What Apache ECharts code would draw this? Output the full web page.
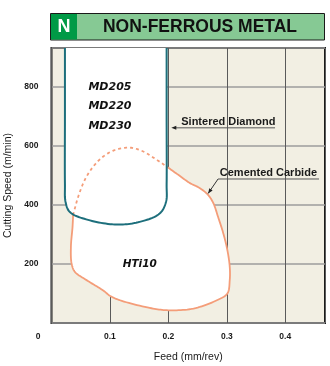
<!DOCTYPE html>
<html><head><meta charset="utf-8">
<script src="https://cdn.jsdelivr.net/npm/echarts@6/dist/echarts.min.js"></script>
<style>html,body{margin:0;padding:0;background:#fff}#c{width:330px;height:366px}</style>
</head><body><div id="c"></div>
<script>
// Tick labels
const xTicks = [0, 0.1, 0.2, 0.3, 0.4];
const yTicks = [200, 400, 600, 800];
// Sintered diamond region outline (feed, speed)
const diamondOutline = [[0.023,930],[0.023,700],[0.023,470],[0.024,410],[0.0315,375],[0.0658,347],[0.112,333],[0.151,342],[0.185,370],[0.196,410],[0.197,470],[0.197,700],[0.197,930]];
// Cemented carbide region: dashed part (inside diamond region), then solid part
const carbideDashed = [[0.037,365],[0.0457,427],[0.057,484],[0.0714,529],[0.0885,563],[0.1086,585],[0.1342,593],[0.157,580],[0.18,552],[0.197,529]];
const carbideSolid = [[0.197,529],[0.217,501],[0.237,473],[0.254,456],[0.268,433],[0.277,405],[0.285,359],[0.294,303],[0.301,246],[0.305,190],[0.305,145],[0.301,100],[0.283,77],[0.243,49],[0.2,43],[0.168,51],[0.117,77],[0.10,92],[0.0885,110],[0.06,145],[0.04,173],[0.0344,201],[0.0332,258],[0.036,325],[0.037,365]];
// Grade labels
const diamondGrades = ['MD205','MD220','MD230'];
const carbideGrades = ['HTi10'];

const chart = echarts.init(document.getElementById('c'), null, {renderer:'canvas'});
const TEAL = '#1d6f7c', ORANGE = '#f49d79', TXT = '#1a1a1a';
function px(api, arr){ return arr.map(p => api.coord(p)); }
// centripetal Catmull-Rom through pixel points
function spline(P, closed){
  const n = P.length, out = [];
  const get = i => closed ? P[(i+n)%n] : P[Math.max(0, Math.min(n-1, i))];
  const segs = closed ? n : n-1;
  for(let i=0;i<segs;i++){
    const p0=get(i-1), p1=get(i), p2=get(i+1), p3=get(i+2);
    const d = (a,b)=>Math.pow(Math.hypot(b[0]-a[0],b[1]-a[1])||1e-6,0.5);
    const t0=0, t1=t0+d(p0,p1), t2=t1+d(p1,p2), t3=t2+d(p2,p3);
    const S=12;
    for(let s=0;s<S;s++){
      const t=t1+(t2-t1)*s/S;
      const L=(a,b,ta,tb)=>[(tb-t)/(tb-ta)*a[0]+(t-ta)/(tb-ta)*b[0],(tb-t)/(tb-ta)*a[1]+(t-ta)/(tb-ta)*b[1]];
      const A1=L(p0,p1,t0,t1), A2=L(p1,p2,t1,t2), A3=L(p2,p3,t2,t3);
      const B1=L(A1,A2,t0,t2), B2=L(A2,A3,t1,t3);
      out.push(L(B1,B2,t1,t2));
    }
  }
  if(!closed) out.push(P[n-1]);
  return out;
}

function renderItem(params, api){
  const ch = [];
  const dPts = spline(px(api, diamondOutline), false);
  const cPts = spline(px(api, carbideDashed.slice(0,-1).concat(carbideSolid.slice(0,-1))), true);
  ch.push({type:'polygon', shape:{points:dPts}, style:{fill:'#fff', stroke:null}});
  ch.push({type:'polygon', shape:{points:cPts}, style:{fill:'#fff', stroke:null}});
  ch.push({type:'polyline', shape:{points:spline(px(api, carbideSolid), false)}, style:{fill:null, stroke:ORANGE, lineWidth:1.8}});
  ch.push({type:'polyline', shape:{points:spline(px(api, carbideDashed), false)}, style:{fill:null, stroke:ORANGE, lineWidth:1.8, lineDash:[3,3]}});
  ch.push({type:'polyline', shape:{points:dPts}, style:{fill:null, stroke:TEAL, lineWidth:2}});
  // grade labels
  const gy = [798, 732, 667];
  diamondGrades.forEach((g,i)=>{
    const p = api.coord([0.1, gy[i]]);
    ch.push({type:'text', style:{text:g, x:p[0], y:p[1], align:'center', verticalAlign:'middle', fontFamily:'DejaVu Sans', fontWeight:'bold', fontStyle:'italic', fontSize:11, fill:'#111'}});
  });
  const hp = api.coord([0.151, 198]);
  ch.push({type:'text', style:{text:carbideGrades[0], x:hp[0], y:hp[1], align:'center', verticalAlign:'middle', fontFamily:'DejaVu Sans', fontWeight:'bold', fontStyle:'italic', fontSize:10.5, fill:'#111'}});
  // Sintered Diamond annotation
  const s1 = api.coord([0.222, 680]);
  ch.push({type:'text', style:{text:'Sintered Diamond', x:s1[0], y:s1[1], align:'left', verticalAlign:'middle', fontFamily:'Liberation Sans', fontWeight:'bold', fontSize:11, fill:TXT}});
  const u1a = api.coord([0.205, 660]), u1b = api.coord([0.3825, 660]);
  ch.push({type:'line', shape:{x1:u1a[0]+3, y1:u1a[1], x2:u1b[0], y2:u1b[1]}, style:{stroke:'#555', lineWidth:1}});
  ch.push({type:'polygon', shape:{points:[[u1a[0],u1a[1]],[u1a[0]+5,u1a[1]-2],[u1a[0]+5,u1a[1]+2]]}, style:{fill:'#222'}});
  // Cemented Carbide annotation
  const s2 = api.coord([0.288, 508]);
  ch.push({type:'text', style:{text:'Cemented Carbide', x:s2[0], y:s2[1], align:'left', verticalAlign:'middle', fontFamily:'Liberation Sans', fontWeight:'bold', fontSize:11, fill:TXT}});
  const u2a = api.coord([0.285, 487]), u2b = api.coord([0.4578, 487]);
  ch.push({type:'line', shape:{x1:u2a[0], y1:u2a[1], x2:u2b[0], y2:u2b[1]}, style:{stroke:'#555', lineWidth:1}});
  const tip = api.coord([0.268, 438]);
  ch.push({type:'line', shape:{x1:u2a[0], y1:u2a[1], x2:tip[0], y2:tip[1]}, style:{stroke:'#333', lineWidth:1}});
  const dx = tip[0]-u2a[0], dy = tip[1]-u2a[1], L = Math.hypot(dx,dy), ux=dx/L, uy=dy/L;
  ch.push({type:'polygon', shape:{points:[[tip[0],tip[1]],[tip[0]-ux*5-uy*2,tip[1]-uy*5+ux*2],[tip[0]-ux*5+uy*2,tip[1]-uy*5-ux*2]]}, style:{fill:'#222'}});
  return {type:'group', children:ch};
}

const option = {
  animation:false,
  grid:{left:51.5, right:5, top:48, bottom:43, outerBoundsMode:'none', containLabel:false, show:true, backgroundColor:'#f2efe3', borderColor:'#1a1a1a', borderWidth:2},
  xAxis:{type:'value', min:0, max:0.468, interval:0.1,
    name:'Feed (mm/rev)', nameLocation:'middle', nameGap:29,
    nameTextStyle:{fontFamily:'Liberation Sans', fontSize:10.5, color:TXT},
    axisLine:{show:false}, axisTick:{show:false},
    splitLine:{show:true, lineStyle:{color:'#5a5a5a', width:1}},
    axisLabel:{margin:9, fontFamily:'Liberation Sans', fontWeight:'bold', fontSize:8.5, color:TXT,
      formatter:v=>{const t=xTicks.find(k=>Math.abs(k-v)<1e-6); if(t===undefined) return ''; return t===0?'{z|0}':String(t);},
      rich:{z:{padding:[0,27,0,0], fontFamily:'Liberation Sans', fontWeight:'bold', fontSize:8.5, color:TXT}}}},
  yAxis:{type:'value', min:0, max:930, interval:200,
    name:'Cutting Speed (m/min)', nameLocation:'middle', nameGap:37,
    nameTextStyle:{fontFamily:'Liberation Sans', fontSize:10.5, color:TXT},
    axisLine:{show:false}, axisTick:{show:false},
    splitLine:{show:true, lineStyle:{color:'#9c9c9c', width:1.5}},
    axisLabel:{margin:13, fontFamily:'Liberation Sans', fontWeight:'bold', fontSize:8.5, color:TXT,
      formatter:v=>yTicks.indexOf(v)>=0?String(v):''}},
  graphic:[
    {type:'rect', shape:{x:50.5, y:13.5, width:274, height:26.5}, style:{fill:'#86c994', stroke:'#1a1a1a', lineWidth:1}},
    {type:'rect', shape:{x:51, y:14, width:26, height:25.5}, style:{fill:'#009a46'}},
    {type:'text', style:{text:'N', x:64, y:27, align:'center', verticalAlign:'middle', fontFamily:'Liberation Sans', fontWeight:'bold', fontSize:18, fill:'#fff'}},
    {type:'text', style:{text:'NON-FERROUS METAL', x:200, y:27, align:'center', verticalAlign:'middle', fontFamily:'Liberation Sans', fontWeight:'bold', fontSize:17.5, fill:'#111'}}
  ],
  series:[{type:'custom', coordinateSystem:'cartesian2d', data:[[0,0]], renderItem:renderItem, clip:true, silent:true}]
};
chart.setOption(option);
</script></body></html>
